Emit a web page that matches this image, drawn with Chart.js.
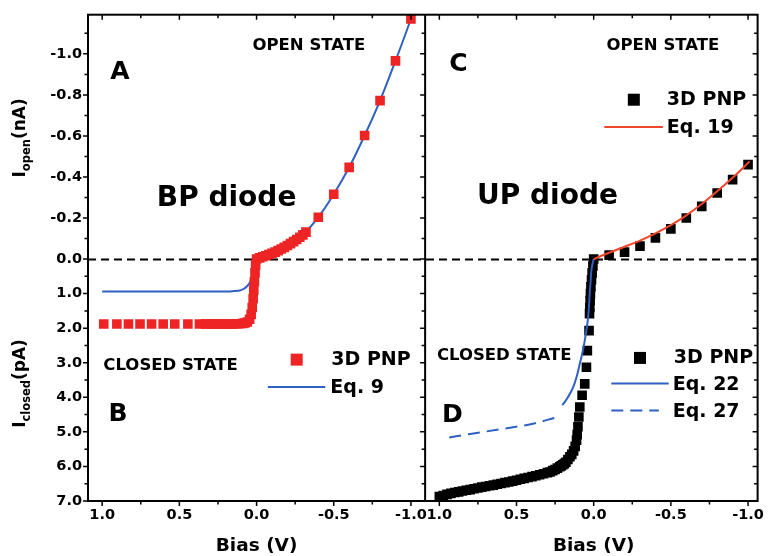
<!DOCTYPE html>
<html><head><meta charset="utf-8">
<script src="https://cdn.jsdelivr.net/npm/chart.js@4.4.1/dist/chart.umd.min.js"></script>
<style>html,body{margin:0;padding:0;background:#fff}canvas{display:block}</style>
</head><body>
<canvas id="c" width="770" height="556"></canvas>
<script>
// ===== DATA =====
// Panel A/B : BP diode
const bpPnpClosedBias = [0.99,0.905,0.83,0.755,0.68,0.605,0.53,0.445,0.37,0.33,0.31,0.29,0.27,0.25,0.23,0.21,0.19,0.17,0.15,0.13,0.11,0.09,0.075,0.06,0.045,0.035,0.028,0.022,0.018,0.014,0.010,0.006];
const bpPnpClosedCurrent_pA = [1.88,1.88,1.88,1.88,1.88,1.88,1.88,1.88,1.88,1.88,1.88,1.88,1.88,1.88,1.88,1.88,1.88,1.88,1.88,1.87,1.87,1.86,1.85,1.82,1.74,1.60,1.40,1.15,0.90,0.65,0.40,0.18];
const bpPnpOpenBias = [0,-0.02,-0.04,-0.06,-0.08,-0.10,-0.12,-0.14,-0.16,-0.18,-0.20,-0.22,-0.24,-0.26,-0.28,-0.30,-0.32,-0.4,-0.5,-0.6,-0.7,-0.8,-0.9,-1.0];
const bpPnpOpenCurrent_nA = [0,-0.006,-0.011,-0.016,-0.022,-0.028,-0.034,-0.041,-0.049,-0.057,-0.066,-0.075,-0.085,-0.095,-0.106,-0.118,-0.131,-0.204,-0.316,-0.447,-0.602,-0.772,-0.966,-1.17];
const bpEq9ClosedBias = [1.0,0.8,0.6,0.4,0.2,0.157,0.1,0.06,0.035,0.017,0.006,0.0];
const bpEq9ClosedCurrent_pA = [0.935,0.935,0.935,0.935,0.935,0.93,0.9,0.78,0.6,0.34,0.14,0.0];
const bpEq9OpenBias = [-0.1,-0.2,-0.3,-0.4,-0.5,-0.6,-0.7,-0.8,-0.9,-1.0,-1.03];
const bpEq9OpenCurrent_nA = [-0.028,-0.066,-0.118,-0.204,-0.316,-0.447,-0.602,-0.772,-0.966,-1.17,-1.235];

// Panel C/D : UP diode
const upPnpOpenBias = [-0.1,-0.2,-0.3,-0.4,-0.5,-0.6,-0.7,-0.8,-0.9,-1.0];
const upPnpOpenCurrent_nA = [-0.019,-0.034,-0.063,-0.103,-0.147,-0.2,-0.257,-0.322,-0.387,-0.46];
const upEq19Bias = [0,-0.05,-0.1,-0.2,-0.3,-0.4,-0.5,-0.6,-0.7,-0.8,-0.9,-1.01];
const upEq19Current_nA = [0,-0.016,-0.031,-0.06,-0.09,-0.125,-0.165,-0.213,-0.268,-0.33,-0.396,-0.476];
const upPnpClosedBias = [0,0.005,0.01,0.014,0.018,0.021,0.023,0.025,0.027,0.03,0.041,0.047,0.058,0.075,0.09,0.096,0.102,0.107,0.111,0.12,0.13,0.142,0.154,0.167,0.18,0.19,0.2,0.21,0.219,0.235,0.25,0.265,0.283,0.3,0.325,0.35,0.375,0.4,0.425,0.45,0.475,0.5,0.525,0.55,0.575,0.6,0.625,0.65,0.675,0.7,0.725,0.75,0.775,0.8,0.825,0.85,0.875,0.9,0.925,0.95,0.975,1.0];
const upPnpClosedCurrent_pA = [0,0.2,0.4,0.6,0.8,1.0,1.2,1.4,1.58,2.07,2.65,3.13,3.61,3.94,4.28,4.57,4.85,5.08,5.24,5.42,5.55,5.65,5.72,5.8,5.88,5.92,5.95,5.98,6.01,6.05,6.09,6.12,6.16,6.18,6.21,6.24,6.27,6.295,6.32,6.345,6.37,6.40,6.425,6.45,6.47,6.495,6.515,6.54,6.56,6.58,6.60,6.625,6.645,6.67,6.69,6.71,6.735,6.755,6.78,6.81,6.84,6.87];
const upEq22Bias = [0.203,0.17,0.132,0.11,0.09,0.07,0.058,0.045,0.036,0.03,0.026,0.02,0.015,0.008,0];
const upEq22Current_pA = [4.23,4.02,3.70,3.40,3.03,2.65,2.36,2.0,1.68,1.35,1.01,0.65,0.34,0.15,0];
const upEq27Bias = [0.936,0.8,0.6,0.4,0.25];
const upEq27Current_pA = [5.16,5.06,4.92,4.77,4.59];

// Tick labels
const biasMajorTicks = [1.0,0.5,0.0,-0.5,-1.0];
const biasMinorTicks = [0.75,0.25,-0.25,-0.75];
const openMajorTicks_nA = [-0.2,-0.4,-0.6,-0.8,-1.0];
const openMinorTicks_nA = [-0.1,-0.3,-0.5,-0.7,-0.9,-1.1];
const closedMajorTicks_pA = [0.0,1.0,2.0,3.0,4.0,5.0,6.0,7.0];
const closedMinorTicks_pA = [0.5,1.5,2.5,3.5,4.5,5.5,6.5];

// ===== axis mapping (two panels on one scale, open nA above, closed pA below) =====
const K = 5.937;          // vertical units per nA (1 unit = 1 pA)
const OFFSET = 2.184;     // x shift of right-hand panel
const X_MIN = -1.092, X_MAX = 3.246, Y_MIN = -7.0, Y_MAX = 7.07;
const PX = { L: v => -v, R: v => OFFSET - v };
const yOpen = n => -n * K;
const yClosed = p => -p;

const FONT = 'DejaVu Sans';
const RED = '#ee2424', BLUE = '#2f60c2', ORANGE = '#f2452c';

function pts(bias, cur, panel, conv) { return bias.map((b, i) => ({x: PX[panel](b), y: conv(cur[i])})); }

const bpPnp = pts(bpPnpClosedBias, bpPnpClosedCurrent_pA, 'L', yClosed).concat(pts(bpPnpOpenBias, bpPnpOpenCurrent_nA, 'L', yOpen));
const bpEq9 = pts(bpEq9ClosedBias, bpEq9ClosedCurrent_pA, 'L', yClosed).concat(pts(bpEq9OpenBias, bpEq9OpenCurrent_nA, 'L', yOpen));
const upPnp = pts(upPnpClosedBias, upPnpClosedCurrent_pA, 'R', yClosed).concat(pts(upPnpOpenBias, upPnpOpenCurrent_nA, 'R', yOpen));
const upEq19 = pts(upEq19Bias, upEq19Current_nA, 'R', yOpen);
const upEq22 = pts(upEq22Bias, upEq22Current_pA, 'R', yClosed);
const upEq27 = pts(upEq27Bias, upEq27Current_pA, 'R', yClosed);

const xTicks = [];
['L','R'].forEach(k => {
  biasMajorTicks.forEach(v => xTicks.push({value: PX[k](v), txt: v.toFixed(1)}));
  biasMinorTicks.forEach(v => xTicks.push({value: PX[k](v), txt: ''}));
});
xTicks.sort((a,b) => a.value - b.value);
const yTicks = [];
closedMajorTicks_pA.forEach(p => yTicks.push({value: yClosed(p), txt: p.toFixed(1)}));
closedMinorTicks_pA.forEach(p => yTicks.push({value: yClosed(p), txt: ''}));
openMajorTicks_nA.forEach(n => yTicks.push({value: yOpen(n), txt: n.toFixed(1)}));
openMinorTicks_nA.forEach(n => yTicks.push({value: yOpen(n), txt: ''}));
yTicks.sort((a,b) => a.value - b.value);

const sq = {showLine:false, pointStyle:'rect', pointRadius:6.8, pointBorderWidth:0, pointHoverRadius:6.8};
const ln = {showLine:true, pointRadius:0, borderWidth:2, cubicInterpolationMode:'monotone'};

const decor = {
  id: 'decor',
  beforeDatasetsDraw(chart) {
    const {ctx, chartArea: ca, scales: {y}} = chart;
    const y0 = Math.round(y.getPixelForValue(0)) + 0.5;
    ctx.save();
    ctx.strokeStyle = '#000'; ctx.lineWidth = 2; ctx.setLineDash([8,5]);
    ctx.beginPath(); ctx.moveTo(ca.left, y0); ctx.lineTo(ca.right, y0); ctx.stroke();
    ctx.restore();
  },
  afterDatasetsDraw(chart) {
    const {ctx, chartArea: ca, scales: {x, y}} = chart;
    const X = (p, v) => x.getPixelForValue(PX[p](v));
    const Y = u => y.getPixelForValue(u);
    ctx.save();
    ctx.strokeStyle = '#000'; ctx.lineWidth = 2; ctx.setLineDash([]);
    ctx.strokeRect(ca.left, ca.top, ca.right - ca.left, ca.bottom - ca.top);
    const xd = x.getPixelForValue(PX.L(X_MIN));
    ctx.beginPath(); ctx.moveTo(xd, ca.top); ctx.lineTo(xd, ca.bottom); ctx.stroke();
    // ticks
    ctx.lineWidth = 1.5;
    ['L','R'].forEach(p => {
      [[biasMajorTicks,5],[biasMinorTicks,3.5]].forEach(([arr,len]) => arr.forEach(v => {
        const xp = X(p, v);
        ctx.beginPath();
        ctx.moveTo(xp, ca.bottom); ctx.lineTo(xp, ca.bottom + len);
        ctx.moveTo(xp, ca.top); ctx.lineTo(xp, ca.top + len);
        ctx.stroke();
      }));
    });
    yTicks.forEach(t => {
      const yp = Y(t.value), len = t.txt ? 5 : 3.5;
      ctx.beginPath();
      [ca.left, xd, ca.right].forEach(xx => { ctx.moveTo(xx - len, yp); ctx.lineTo(xx, yp); });
      ctx.stroke();
    });
    // annotation text
    ctx.fillStyle = '#000'; ctx.textBaseline = 'middle';
    const txt = (s, p, v, u, size, align) => {
      ctx.font = 'bold ' + size + 'px "' + FONT + '"';
      ctx.textAlign = align || 'center';
      ctx.fillText(s, X(p, v), Y(u));
    };
    txt('A', 'L', 0.885, 5.41, 25);
    txt('OPEN STATE', 'L', -0.339, 6.18, 16.5);
    txt('BP diode', 'L', 0.194, 1.74, 28);
    txt('CLOSED STATE', 'L', 0.557, -3.08, 16.5);
    txt('B', 'L', 0.898, -4.50, 25);
    txt('C', 'R', 0.876, 5.64, 25);
    txt('OPEN STATE', 'R', -0.448, 6.16, 16.5);
    txt('UP diode', 'R', 0.299, 1.80, 28);
    txt('CLOSED STATE', 'R', 0.580, -2.81, 16.5);
    txt('D', 'R', 0.915, -4.53, 25);
    // legends
    const square = (p, v, u, c) => { ctx.fillStyle = c; ctx.fillRect(X(p,v) - 6, Y(u) - 6, 12, 12); ctx.fillStyle = '#000'; };
    const seg = (p, v1, v2, u, c, dash) => {
      ctx.save(); ctx.strokeStyle = c; ctx.lineWidth = 2; ctx.setLineDash(dash || []);
      ctx.beginPath(); ctx.moveTo(X(p,v1), Y(u)); ctx.lineTo(X(p,v2), Y(u)); ctx.stroke(); ctx.restore();
    };
    square('L', -0.26, -2.91, RED);
    txt('3D PNP', 'L', -0.484, -2.92, 19, 'left');
    seg('L', -0.073, -0.445, -3.70, BLUE);
    txt('Eq. 9', 'L', -0.478, -3.72, 19, 'left');
    square('R', -0.26, 4.61, '#000');
    txt('3D PNP', 'R', -0.474, 4.60, 19, 'left');
    seg('R', -0.069, -0.448, 3.82, ORANGE);
    txt('Eq. 19', 'R', -0.474, 3.80, 19, 'left');
    square('R', -0.30, -2.86, '#000');
    txt('3D PNP', 'R', -0.519, -2.87, 19, 'left');
    seg('R', -0.114, -0.486, -3.60, BLUE);
    txt('Eq. 22', 'R', -0.512, -3.65, 19, 'left');
    seg('R', -0.114, -0.422, -4.38, BLUE, [12,7]);
    txt('Eq. 27', 'R', -0.512, -4.43, 19, 'left');
    // axis titles
    ctx.font = 'bold 18.5px "' + FONT + '"'; ctx.textAlign = 'center'; ctx.textBaseline = 'middle';
    ['L','R'].forEach(p => ctx.fillText('Bias (V)', X(p, 0), ca.bottom + 45));
    const ytitle = (sub, unit, cy) => {
      ctx.save();
      ctx.translate(25, cy); ctx.rotate(-Math.PI/2);
      ctx.textBaseline = 'alphabetic'; ctx.textAlign = 'left';
      const fMain = 'bold 17px "' + FONT + '"', fSub = 'bold 11.5px "' + FONT + '"';
      ctx.font = fMain; const w1 = ctx.measureText('I').width, w3 = ctx.measureText(unit).width;
      ctx.font = fSub; const w2 = ctx.measureText(sub).width;
      let x0 = -(w1 + w2 + w3) / 2;
      ctx.font = fMain; ctx.fillText('I', x0, 0);
      ctx.font = fSub; ctx.fillText(sub, x0 + w1, 5);
      ctx.font = fMain; ctx.fillText(unit, x0 + w1 + w2, 0);
      ctx.restore();
    };
    ytitle('open', '(nA)', Y(yOpen(-0.6)) + 2);
    ytitle('closed', '(pA)', Y(yClosed(3.6)));
    ctx.restore();
  }
};

new Chart(document.getElementById('c'), {
  type: 'scatter',
  data: { datasets: [
    Object.assign({label:'3D PNP (BP)', data: bpPnp, backgroundColor: RED, borderColor: RED, order: 1}, sq),
    Object.assign({label:'Eq. 9', data: bpEq9, borderColor: BLUE, backgroundColor: BLUE, order: 2}, ln),
    Object.assign({label:'Eq. 19', data: upEq19, borderColor: ORANGE, backgroundColor: ORANGE, order: 0}, ln),
    Object.assign({label:'Eq. 22', data: upEq22, borderColor: BLUE, backgroundColor: BLUE, order: 0}, ln),
    Object.assign({label:'Eq. 27', data: upEq27, borderColor: BLUE, backgroundColor: BLUE, borderDash:[12,7], order: 0}, ln),
    Object.assign({label:'3D PNP (UP)', data: upPnp, backgroundColor: '#000', borderColor: '#000', order: 3}, sq)
  ]},
  options: {
    responsive: false, animation: false, devicePixelRatio: 1,
    layout: { padding: {left: 0, right: 7, top: 13.5, bottom: 0} },
    plugins: { legend: {display: false}, tooltip: {enabled: false} },
    scales: {
      x: { type: 'linear', min: X_MIN, max: X_MAX,
        afterBuildTicks: s => { s.ticks = xTicks.map(t => ({value: t.value, txt: t.txt})); },
        afterFit: s => { s.height = 55; },
        grid: {display: false, drawTicks: false}, border: {display: false},
        ticks: {autoSkip: false, maxRotation: 0, minRotation: 0, padding: 6, color: '#000',
          font: {family: FONT, size: 14.5, weight: 'bold'},
          callback: (v, i, ts) => ts[i].txt } },
      y: { type: 'linear', min: Y_MIN, max: Y_MAX,
        afterBuildTicks: s => { s.ticks = yTicks.map(t => ({value: t.value, txt: t.txt})); },
        afterFit: s => { s.width = 88; },
        grid: {display: false, drawTicks: false}, border: {display: false},
        ticks: {autoSkip: false, padding: 6, color: '#000',
          font: {family: FONT, size: 14.5, weight: 'bold'},
          callback: (v, i, ts) => ts[i].txt } }
    }
  },
  plugins: [decor]
});
</script>
</body></html>
